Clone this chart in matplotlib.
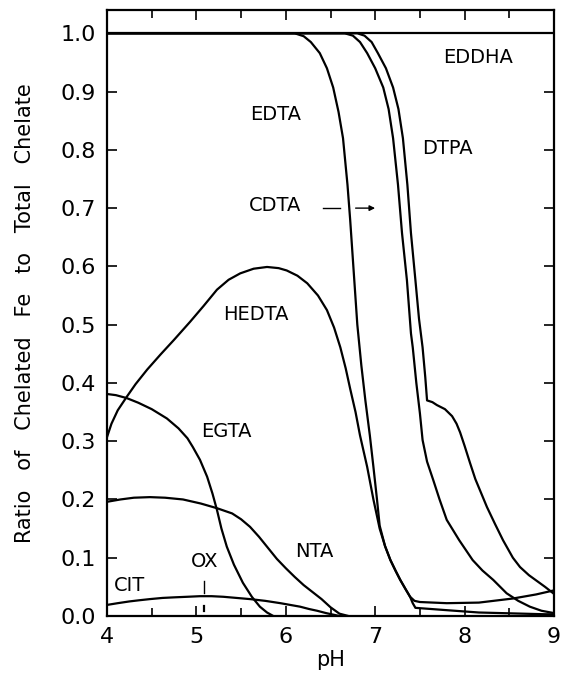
import matplotlib.pyplot as plt
from matplotlib.ticker import MultipleLocator, FormatStrFormatter

# values (pH, ratio of chelated Fe to total chelate)
eddha_ph = [4.0, 9.0]
eddha_ratio = [1.0, 1.0]

edta_ph = [4.0, 6.1, 6.2, 6.28, 6.38, 6.46, 6.53, 6.59, 6.64, 6.69, 6.72, 6.76,
           6.80, 6.845, 6.89, 6.94, 6.98, 7.02, 7.05, 7.11, 7.17, 7.23, 7.28, 7.34,
           7.39, 7.44, 7.5, 7.8, 8.16, 8.54, 8.8, 9.0]
edta_ratio = [1.0, 1.0, 0.995, 0.985, 0.966, 0.94, 0.907, 0.865, 0.82, 0.74, 0.68, 0.59,
              0.50, 0.43, 0.37, 0.31, 0.256, 0.2, 0.155, 0.12, 0.096, 0.077, 0.062, 0.046,
              0.033, 0.026, 0.024, 0.022, 0.023, 0.03, 0.037, 0.044]

cdta_ph = [4.0, 6.66, 6.75, 6.83, 6.91, 7.0, 7.09, 7.15, 7.2, 7.255, 7.3, 7.355,
           7.40, 7.42, 7.46, 7.5, 7.53, 7.58, 7.65, 7.72, 7.8, 7.94, 8.09, 8.2,
           8.32, 8.47, 8.6, 8.73, 8.86, 9.0]
cdta_ratio = [1.0, 1.0, 0.996, 0.985, 0.966, 0.94, 0.907, 0.87, 0.82, 0.74, 0.657, 0.576,
              0.485, 0.461, 0.40, 0.348, 0.302, 0.265, 0.233, 0.2, 0.165, 0.13, 0.096, 0.078,
              0.062, 0.039, 0.026, 0.016, 0.009, 0.005]

dtpa_ph = [4.0, 6.8, 6.88, 6.96, 7.03, 7.12, 7.2, 7.26, 7.31, 7.36, 7.40, 7.45,
           7.49, 7.53, 7.56, 7.58, 7.64, 7.69, 7.78, 7.86, 7.91, 7.95, 8.0, 8.06,
           8.12, 8.25, 8.34, 8.43, 8.54, 8.62, 8.72, 8.81, 8.9, 9.0]
dtpa_ratio = [1.0, 1.0, 0.996, 0.985, 0.966, 0.94, 0.907, 0.87, 0.82, 0.74, 0.657, 0.576,
              0.51, 0.461, 0.41, 0.37, 0.367, 0.362, 0.355, 0.343, 0.33, 0.315, 0.292, 0.263,
              0.235, 0.187, 0.158, 0.13, 0.1, 0.084, 0.07, 0.06, 0.05, 0.038]

hedta_ph = [4.0, 4.05, 4.12, 4.22, 4.32, 4.45, 4.6, 4.75, 4.93, 5.08, 5.23, 5.36,
            5.49, 5.64, 5.79, 5.92, 6.01, 6.13, 6.24, 6.36, 6.46, 6.54, 6.61, 6.67,
            6.72, 6.78, 6.83, 6.91, 6.98, 7.05, 7.11, 7.17, 7.23, 7.28, 7.34, 7.39,
            7.42, 7.45, 7.8, 8.16, 8.9, 9.0]
hedta_ratio = [0.307, 0.33, 0.353, 0.376, 0.398, 0.423, 0.449, 0.474, 0.505, 0.532, 0.56, 0.577,
               0.588, 0.596, 0.599, 0.597, 0.593, 0.584, 0.571, 0.55, 0.525, 0.495, 0.461, 0.425,
               0.39, 0.35, 0.31, 0.256, 0.2, 0.15, 0.12, 0.096, 0.077, 0.062, 0.046, 0.033,
               0.022, 0.014, 0.01, 0.006, 0.003, 0.003]

egta_ph = [4.0, 4.1, 4.22, 4.35, 4.5, 4.67, 4.8, 4.9, 4.96, 5.04, 5.12, 5.18,
           5.23, 5.28, 5.34, 5.42, 5.52, 5.62, 5.71, 5.79, 5.86]
egta_ratio = [0.381, 0.379, 0.374, 0.366, 0.355, 0.339, 0.322, 0.305, 0.29, 0.268, 0.239, 0.21,
              0.182, 0.15, 0.119, 0.088, 0.057, 0.033, 0.016, 0.006, 0.0]

nta_ph = [4.0, 4.15, 4.3, 4.48, 4.65, 4.85, 5.05, 5.23, 5.4, 5.5, 5.6, 5.7,
          5.8, 5.9, 6.0, 6.1, 6.2, 6.3, 6.4, 6.5, 6.6, 6.7]
nta_ratio = [0.196, 0.2, 0.203, 0.204, 0.203, 0.2, 0.193, 0.185, 0.176, 0.166, 0.153, 0.136,
             0.117, 0.098, 0.082, 0.067, 0.053, 0.041, 0.029, 0.015, 0.004, 0.0]

cit_ph = [4.0, 4.12, 4.25, 4.36, 4.48, 4.62, 4.75, 4.9, 5.04, 5.17, 5.3, 5.45,
          5.6, 5.77, 5.94, 6.05, 6.16, 6.26, 6.35, 6.45, 6.6]
cit_ratio = [0.019, 0.022, 0.025, 0.027, 0.029, 0.031, 0.032, 0.033, 0.034, 0.034, 0.033, 0.031,
             0.029, 0.026, 0.022, 0.019, 0.016, 0.012, 0.009, 0.005, 0.0]

ox_ph = [5.085, 5.085]
ox_ratio = [0.008, 0.017]

labels = ["EDDHA", "EDTA", "DTPA", "CDTA", "HEDTA", "EGTA", "NTA", "CIT", "OX"]
label_x = [8.15, 5.89, 7.81, 5.88, 5.67, 5.33, 6.32, 4.25, 5.09]
label_y = [0.959, 0.861, 0.803, 0.705, 0.518, 0.316, 0.11, 0.053, 0.094]


def drawCurves(ax):
    curves = [
        (eddha_ph, eddha_ratio),
        (edta_ph, edta_ratio),
        (cdta_ph, cdta_ratio),
        (dtpa_ph, dtpa_ratio),
        (hedta_ph, hedta_ratio),
        (egta_ph, egta_ratio),
        (nta_ph, nta_ratio),
        (cit_ph, cit_ratio),
        (ox_ph, ox_ratio),
    ]
    for ph, ratio in curves:
        ax.plot(ph, ratio, color="black", linewidth=1.6, solid_joinstyle="round")


def drawLabels(ax):
    for name, x, y in zip(labels, label_x, label_y):
        ax.text(x, y, name, fontsize=14, ha="center", va="center")

    # CDTA pointer and OX marker
    ax.plot([6.42, 6.61], [0.70, 0.70], color="black", linewidth=1.0)
    ax.annotate("", xy=(7.03, 0.70), xytext=(6.75, 0.70),
                arrowprops=dict(arrowstyle="-|>", color="black", lw=1.0,
                                mutation_scale=8))
    ax.plot([5.085, 5.085], [0.039, 0.06], color="black", linewidth=1.0)


fig = plt.figure(figsize=(5.71, 6.86), dpi=100)
ax = fig.add_axes([107 / 571, 70 / 686, 447 / 571, 606 / 686])

drawCurves(ax)
drawLabels(ax)

ax.set_xlim(4, 9)
ax.set_ylim(0, 1.04)
ax.xaxis.set_major_locator(MultipleLocator(1))
ax.xaxis.set_minor_locator(MultipleLocator(0.5))
ax.yaxis.set_major_locator(MultipleLocator(0.1))
ax.yaxis.set_major_formatter(FormatStrFormatter("%.1f"))
ax.tick_params(which="both", direction="in", top=True, right=True, width=1.2)
ax.tick_params(which="major", length=7, labelsize=16, pad=8)
ax.tick_params(which="minor", length=6)
for spine in ax.spines.values():
    spine.set_linewidth(1.6)

ax.set_xlabel("pH", fontsize=15, labelpad=2)
ax.set_ylabel("Ratio   of   Chelated   Fe   to   Total   Chelate", fontsize=15, labelpad=18)

fig.savefig("out.png", dpi=100)
